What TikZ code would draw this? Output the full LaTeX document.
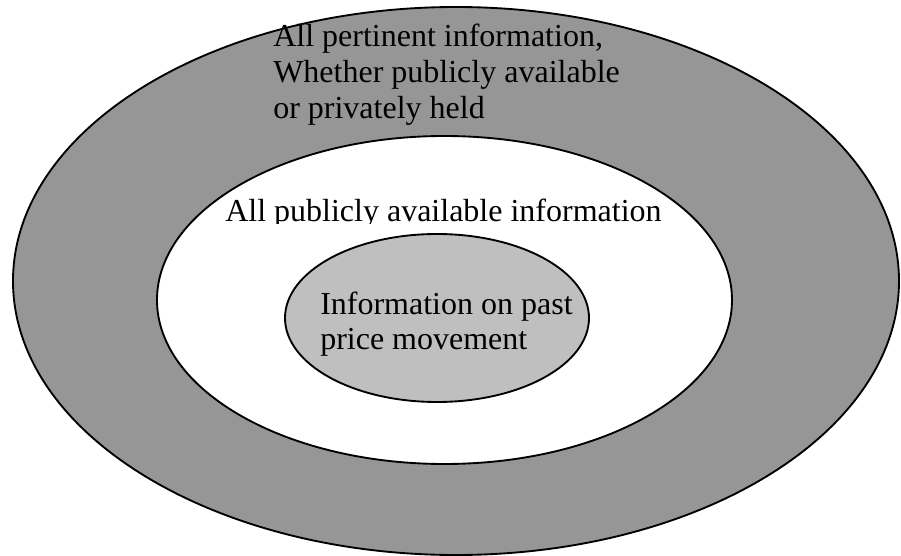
\documentclass[tikz,border=0pt]{standalone}
\usepackage{fontspec}
\setmainfont{Liberation Serif}
\definecolor{grisfonce}{gray}{0.59}
\definecolor{grisclair}{gray}{0.75}
\tikzset{
  bord/.style = {line width=1.4pt},
  texte/.style = {anchor=base west, inner sep=0pt, align=left,
                  font=\fontsize{24}{27}\selectfont}
}
\begin{document}
\begin{tikzpicture}[x=0.75pt, y=-0.75pt]
  \useasboundingbox (0,0) rectangle (901,556);

  % Les ellipses
  \filldraw[bord, fill=grisfonce] (456,281) ellipse [x radius=443, y radius=274];
  \filldraw[bord, fill=white] (444.5,300) ellipse [x radius=287.5, y radius=164];
  \filldraw[bord, fill=grisclair] (437,318) ellipse [x radius=152, y radius=84];

  % Les textes (ancre sur la derniere ligne)
  \node[texte] (tout) at (273,119) {All pertinent information,\\
    Whether publicly available\\ or privately held};
  \begin{scope}
    \clip (200,190) rectangle (700,224);
    \node[texte] (public) at (225,222) {All publicly available information};
  \end{scope}
  \node[texte] (passe) at (320,350) {Information on past\\ price movement};

\end{tikzpicture}
\end{document}
